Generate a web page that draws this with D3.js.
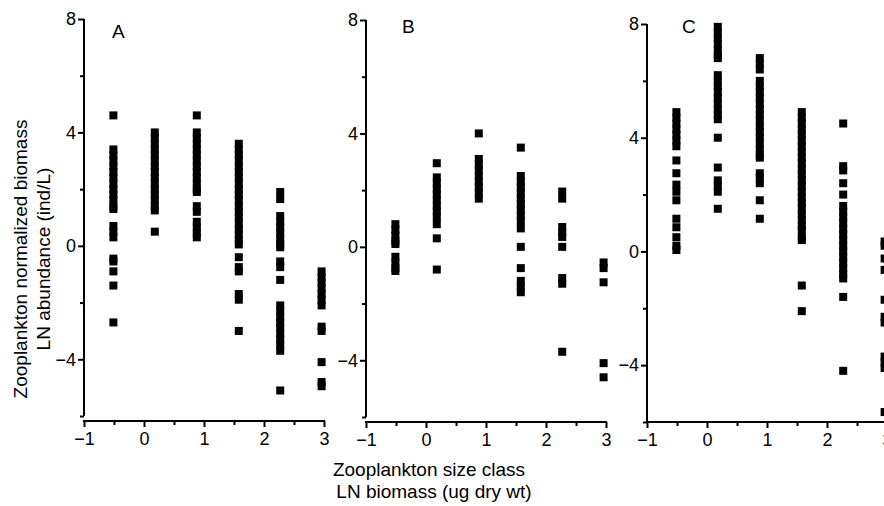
<!DOCTYPE html>
<html>
<head>
<meta charset="utf-8">
<script src="https://cdn.jsdelivr.net/npm/d3@7"></script>
<style>
  html, body { margin: 0; padding: 0; background: #fff; }
  svg { display: block; }
  text { font-family: "Liberation Sans", Arial, sans-serif; fill: #000; }
</style>
</head>
<body>
<svg id="chart" width="884" height="506"></svg>
<script>
// ---------------- DATA ----------------
const sizeClasses = [-0.51, 0.18, 0.88, 1.58, 2.27, 2.96];   // LN biomass (ug dry wt)
const panelLetters = ["A", "B", "C"];
const yTickValues = [-6, -4, -2, 0, 2, 4, 6, 8];
const yTickLabels = [-4, 0, 4, 8];
const xTickValues = [-1, -0.5, 0, 0.5, 1, 1.5, 2, 2.5, 3];
const xTickLabels = [-1, 0, 1, 2, 3];

// LN abundance values per size class (one list per size class)
const panelA = [
  [4.6, 3.4, 3.2, 3.0, 2.8, 2.6, 2.4, 2.2, 2.0, 1.8, 1.6, 1.4, 1.3, 0.7, 0.5, 0.3, -0.45, -0.55, -0.9, -1.4, -2.7],
  [4.0, 3.8, 3.6, 3.4, 3.2, 3.0, 2.8, 2.6, 2.4, 2.2, 2.0, 1.8, 1.6, 1.4, 1.25, 0.5],
  [4.6, 4.0, 3.8, 3.6, 3.4, 3.2, 3.0, 2.8, 2.6, 2.4, 2.2, 2.0, 1.9, 1.4, 1.2, 0.85, 0.65, 0.45, 0.3],
  [3.6, 3.4, 3.2, 3.0, 2.8, 2.6, 2.4, 2.2, 2.0, 1.8, 1.6, 1.4, 1.2, 1.0, 0.8, 0.6, 0.4, 0.2, 0.05, -0.4, -0.75, -0.9, -1.7, -1.9, -3.0],
  [1.9, 1.65, 1.05, 0.85, 0.65, 0.45, 0.25, 0.05, -0.05, -0.55, -0.75, -1.2, -2.1, -2.3, -2.5, -2.7, -2.9, -3.1, -3.3, -3.5, -3.7, -5.1],
  [-0.9, -1.1, -1.3, -1.5, -1.7, -1.9, -2.1, -2.85, -3.0, -4.1, -4.8, -4.95]
];
const panelB = [
  [0.8, 0.6, 0.4, 0.2, 0.1, -0.35, -0.55, -0.75, -0.85],
  [2.95, 2.45, 2.25, 2.05, 1.85, 1.65, 1.45, 1.25, 1.05, 0.8, 0.3, -0.8],
  [4.0, 3.1, 2.9, 2.7, 2.5, 2.3, 2.1, 1.9, 1.7],
  [3.5, 2.5, 2.3, 2.1, 1.9, 1.7, 1.5, 1.3, 1.1, 0.9, 0.65, 0.0, -0.75, -1.2, -1.4, -1.6],
  [1.95, 1.7, 0.7, 0.5, 0.35, 0.0, -1.1, -1.3, -3.7],
  [-0.55, -0.75, -1.25, -4.1, -4.6]
];
const panelC = [
  [4.9, 4.7, 4.5, 4.3, 4.1, 3.9, 3.7, 3.2, 2.75, 2.35, 2.1, 1.8, 1.15, 0.85, 0.5, 0.2, 0.05],
  [7.9, 7.7, 7.5, 7.3, 7.1, 6.9, 6.8, 6.2, 6.0, 5.8, 5.6, 5.4, 5.2, 5.0, 4.8, 4.65, 4.0, 2.95, 2.5, 2.3, 2.1, 1.5],
  [6.8, 6.6, 6.4, 6.0, 5.8, 5.6, 5.4, 5.2, 5.0, 4.8, 4.6, 4.4, 4.2, 4.0, 3.8, 3.6, 3.4, 3.3, 2.75, 2.6, 2.4, 1.8, 1.15],
  [4.9, 4.7, 4.5, 4.3, 4.1, 3.9, 3.7, 3.5, 3.3, 3.1, 2.9, 2.7, 2.5, 2.3, 2.1, 1.9, 1.7, 1.5, 1.3, 1.1, 0.9, 0.75, 0.5, 0.4, -1.2, -2.1],
  [4.5, 3.0, 2.85, 2.4, 2.0, 1.6, 1.4, 1.2, 1.0, 0.8, 0.6, 0.4, 0.2, 0.0, -0.2, -0.4, -0.6, -0.8, -0.95, -1.6, -4.2],
  [0.35, 0.2, -0.25, -0.65, -1.7, -2.3, -2.5, -3.7, -3.9, -4.1, -5.65]
];
const panelData = [panelA, panelB, panelC];

// ---------------- LAYOUT ----------------
const layout = [
  { x0: 84,  x1: 324, yTop: 19, yBot: 416, xAxisY: 421, lx: 112, ly: 38 },
  { x0: 366, x1: 606, yTop: 20, yBot: 417, xAxisY: 422, lx: 402, ly: 33 },
  { x0: 647, x1: 887, yTop: 24, yBot: 422, xAxisY: 422, lx: 682, ly: 33 }
];
const SQ = 8;
const FONT = '"Liberation Sans", Arial, sans-serif';

const svg = d3.select("#chart");

panelData.forEach((cols, i) => {
  const L = layout[i];
  const xs = d3.scaleLinear().domain([-1, 3]).range([L.x0, L.x1]);
  const ys = d3.scaleLinear().domain([-6, 8]).range([L.yBot, L.yTop]);
  const g = svg.append("g");

  // y axis
  const yAxis = d3.axisLeft(ys)
    .tickValues(yTickValues)
    .tickSizeOuter(0)
    .tickFormat(d => yTickLabels.includes(d) ? d3.format("d")(d) : "");
  const gy = g.append("g").attr("transform", `translate(${L.x0},0)`).call(yAxis);
  gy.select(".domain").attr("stroke", "#000").attr("stroke-width", 2)
    .attr("d", `M0,${L.yTop}V${L.yBot}`);
  gy.selectAll(".tick line").attr("stroke", "#000").attr("stroke-width", 2)
    .attr("x2", d => yTickLabels.includes(d) ? -6 : -4);
  gy.selectAll(".tick text").attr("x", -8).style("font-size", "18px")
    .style("font-family", FONT);

  // x axis
  const xAxis = d3.axisBottom(xs)
    .tickValues(xTickValues)
    .tickSizeOuter(0)
    .tickFormat(d => xTickLabels.includes(d) ? d3.format("d")(d) : "");
  const gx = g.append("g").attr("transform", `translate(0,${L.xAxisY})`).call(xAxis);
  gx.select(".domain").attr("stroke", "#000").attr("stroke-width", 2)
    .attr("d", `M${L.x0 - 1},0H${L.x1 + 1}`);
  gx.selectAll(".tick line").attr("stroke", "#000").attr("stroke-width", 2)
    .attr("y2", d => xTickLabels.includes(d) ? 6 : 4);
  gx.selectAll(".tick text").attr("y", 11).style("font-size", "18px")
    .style("font-family", FONT);

  // squares
  cols.forEach((vals, ci) => {
    g.append("g").selectAll("rect")
      .data(vals)
      .join("rect")
      .attr("x", xs(sizeClasses[ci]) - SQ / 2)
      .attr("y", d => ys(d) - SQ / 2)
      .attr("width", SQ)
      .attr("height", SQ)
      .attr("fill", "#000");
  });

  // panel letter
  g.append("text").attr("x", L.lx).attr("y", L.ly)
    .style("font-size", "19px").text(panelLetters[i]);
});

// axis titles
svg.append("text")
  .attr("transform", "translate(27,259) rotate(-90)")
  .attr("text-anchor", "middle").style("font-size", "19px")
  .text("Zooplankton normalized biomass");
svg.append("text")
  .attr("transform", "translate(50,259) rotate(-90)")
  .attr("text-anchor", "middle").style("font-size", "19px")
  .text("LN abundance (ind/L)");
svg.append("text")
  .attr("x", 429).attr("y", 476)
  .attr("text-anchor", "middle").style("font-size", "19px")
  .text("Zooplankton size class");
svg.append("text")
  .attr("x", 434).attr("y", 498)
  .attr("text-anchor", "middle").style("font-size", "19px")
  .text("LN biomass (ug dry wt)");
</script>
</body>
</html>
